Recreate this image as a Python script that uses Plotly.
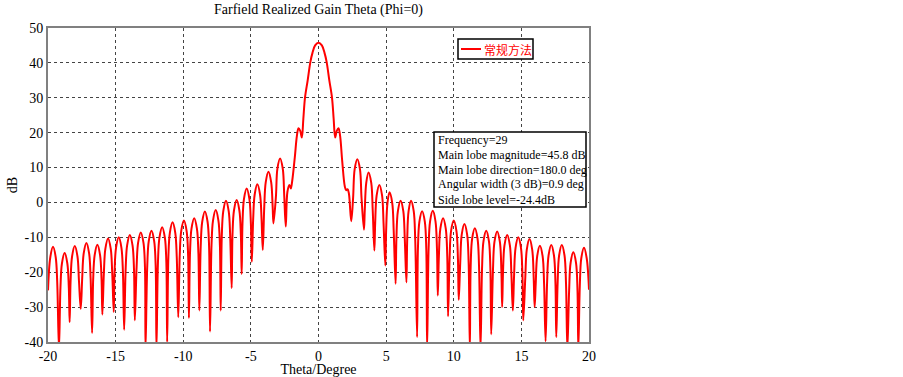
import plotly.graph_objects as go

# Theta (deg) and realized gain (dB): lobe peaks, lobe flanks, nulls, main-lobe profile
theta = [
    -20.00, -19.83, -19.63, -19.43, -19.32, -19.19, -19.08, -18.97, -18.77, -18.57,
    -18.46, -18.40, -18.33, -18.22, -18.02, -17.82, -17.71, -17.58, -17.47, -17.36,
    -17.16, -16.96, -16.85, -16.74, -16.66, -16.55, -16.35, -16.15, -16.04, -15.98,
    -15.87, -15.76, -15.56, -15.36, -15.25, -15.14, -15.08, -14.97, -14.77, -14.57,
    -14.46, -14.37, -14.26, -14.15, -13.95, -13.75, -13.64, -13.58, -13.45, -13.34,
    -13.14, -12.94, -12.83, -12.79, -12.66, -12.55, -12.35, -12.15, -12.04, -11.98,
    -11.87, -11.76, -11.56, -11.36, -11.25, -11.19, -11.10, -10.99, -10.79, -10.59,
    -10.48, -10.37, -10.26, -10.15, -9.95, -9.75, -9.64, -9.58, -9.50, -9.39,
    -9.19, -8.99, -8.88, -8.81, -8.71, -8.60, -8.40, -8.20, -8.09, -8.02,
    -7.91, -7.80, -7.60, -7.40, -7.29, -7.23, -7.15, -7.04, -6.84, -6.64,
    -6.53, -6.42, -6.36, -6.25, -6.05, -5.85, -5.74, -5.68, -5.62, -5.51,
    -5.31, -5.11, -5.00, -4.93, -4.83, -4.72, -4.52, -4.32, -4.21, -4.12,
    -4.01, -3.90, -3.70, -3.50, -3.39, -3.33, -3.15, -3.04, -2.84, -2.64,
    -2.53, -2.42, -2.30, -2.15, -2.05, -1.95, -1.75, -1.60, -1.48, -1.35,
    -1.23, -1.12, -1.00, -0.80, -0.60, -0.45, -0.25, 0.00, 0.25, 0.45,
    0.60, 0.80, 1.00, 1.12, 1.23, 1.35, 1.48, 1.60, 1.75, 1.95,
    2.05, 2.15, 2.25, 2.42, 2.56, 2.67, 2.87, 3.07, 3.18, 3.36,
    3.42, 3.53, 3.70, 3.90, 4.01, 4.13, 4.19, 4.30, 4.50, 4.70,
    4.81, 4.94, 5.00, 5.10, 5.25, 5.45, 5.56, 5.70, 5.76, 5.87,
    6.07, 6.27, 6.38, 6.50, 6.56, 6.66, 6.84, 7.04, 7.15, 7.29,
    7.35, 7.46, 7.66, 7.86, 7.97, 8.03, 8.14, 8.25, 8.45, 8.65,
    8.76, 8.82, 8.90, 9.01, 9.21, 9.41, 9.52, 9.58, 9.69, 9.80,
    10.00, 10.20, 10.31, 10.37, 10.48, 10.59, 10.79, 10.99, 11.10, 11.19,
    11.25, 11.36, 11.56, 11.76, 11.87, 11.98, 12.09, 12.20, 12.40, 12.60,
    12.71, 12.77, 12.90, 13.01, 13.21, 13.41, 13.52, 13.58, 13.64, 13.75,
    13.95, 14.15, 14.26, 14.37, 14.46, 14.57, 14.77, 14.97, 15.08, 15.14,
    15.29, 15.40, 15.60, 15.80, 15.91, 15.98, 16.06, 16.17, 16.37, 16.57,
    16.68, 16.79, 16.90, 17.01, 17.21, 17.41, 17.52, 17.58, 17.68, 17.79,
    17.99, 18.19, 18.30, 18.40, 18.53, 18.64, 18.84, 19.04, 19.15, 19.21,
    19.32, 19.43, 19.63, 19.83, 20.00,
]
gain_db = [
    -25.2, -15.7, -12.7, -15.7, -22.7, -42.0, -24.5, -17.5, -14.5, -17.5,
    -24.5, -34.3, -22.5, -15.5, -12.5, -15.5, -22.5, -30.5, -21.6, -14.6,
    -11.6, -14.6, -21.6, -37.4, -22.1, -15.1, -12.1, -15.1, -22.1, -32.1,
    -20.3, -13.3, -10.3, -13.3, -20.3, -31.4, -20.0, -13.0, -10.0, -13.0,
    -20.0, -36.5, -19.3, -12.3, -9.3, -12.3, -19.3, -33.8, -18.6, -11.6,
    -8.6, -11.6, -18.6, -42.0, -18.1, -11.1, -8.1, -11.1, -18.1, -42.0,
    -17.1, -10.1, -7.1, -10.1, -17.1, -40.0, -15.7, -8.7, -5.7, -8.7,
    -15.7, -32.9, -15.2, -8.2, -5.2, -8.2, -15.2, -33.1, -14.5, -7.5,
    -4.5, -7.5, -14.5, -31.0, -12.6, -5.6, -2.6, -5.6, -12.6, -37.0,
    -12.2, -5.2, -2.2, -5.2, -12.2, -31.0, -9.5, -2.5, 0.5, -2.5,
    -9.5, -24.5, -9.3, -2.3, 0.7, -2.3, -9.3, -20.5, -6.0, 1.0,
    4.0, 1.0, -6.0, -17.0, -4.8, 2.2, 5.2, 2.2, -4.8, -13.6,
    -1.2, 5.8, 8.8, 5.8, -1.2, -6.0, 1.6, 9.6, 12.6, 9.6,
    1.6, -6.9, 3.0, 5.0, 4.0, 6.0, 13.0, 19.0, 21.3, 20.5,
    18.6, 24.0, 30.0, 35.0, 40.3, 42.8, 45.0, 45.8, 45.0, 42.8,
    40.3, 35.0, 30.0, 24.0, 18.6, 20.5, 21.3, 19.0, 12.0, 4.5,
    3.5, 3.8, 2.5, -5.4, 1.4, 9.4, 12.4, 9.4, 1.4, -7.8,
    -2.4, 5.6, 8.6, 5.6, -2.4, -13.8, -6.0, 2.0, 5.0, 2.0,
    -6.0, -18.1, -8.1, -0.1, 2.9, -0.1, -8.1, -23.3, -10.5, -2.5,
    0.5, -2.5, -10.5, -22.9, -10.5, -2.5, 0.5, -2.5, -10.5, -38.6,
    -13.5, -5.5, -2.5, -5.5, -13.5, -42.0, -13.4, -5.4, -2.4, -5.4,
    -13.4, -26.7, -15.5, -7.5, -4.5, -7.5, -15.5, -32.6, -16.2, -8.2,
    -5.2, -8.2, -16.2, -27.9, -17.2, -9.2, -6.2, -9.2, -17.2, -42.0,
    -18.4, -10.4, -7.4, -10.4, -18.4, -42.0, -19.1, -11.1, -8.1, -11.1,
    -19.1, -37.8, -19.3, -11.3, -8.3, -11.3, -19.3, -30.0, -20.3, -12.3,
    -9.3, -12.3, -20.3, -31.0, -21.0, -13.0, -10.0, -13.0, -21.0, -33.8,
    -21.5, -13.5, -10.5, -13.5, -21.5, -30.0, -23.4, -15.4, -12.4, -15.4,
    -23.4, -39.8, -23.2, -15.2, -12.2, -15.2, -23.2, -38.6, -23.2, -15.2,
    -12.2, -15.2, -23.2, -42.0, -25.3, -17.3, -14.3, -17.3, -25.3, -42.0,
    -24.0, -16.0, -13.0, -16.0, -25.0,
]

x_tickvals = [-20, -15, -10, -5, 0, 5, 10, 15, 20]
x_ticktext = ["-20", "-15", "-10", "-5", "0", "5", "10", "15", "20"]
y_tickvals = [-40, -30, -20, -10, 0, 10, 20, 30, 40, 50]
y_ticktext = ["-40", "-30", "-20", "-10", "0", "10", "20", "30", "40", "50"]

series_name = "常规方法"
info_lines = [
    "Frequency=29",
    "Main lobe magnitude=45.8 dB",
    "Main lobe direction=180.0 deg",
    "Angular width (3 dB)=0.9 deg",
    "Side lobe level=-24.4dB",
]

SERIF = "Liberation Serif, Times New Roman, serif"
W, H = 903, 377
ML, MR, MT, MB = 48, 314, 28, 35
PW, PH = W - ML - MR, H - MT - MB


def px_x(p):  # pixel column -> paper x
    return (p - ML) / PW


def px_y(p):  # pixel row -> paper y
    return (H - MB - p) / PH


fig = go.Figure()
fig.add_trace(go.Scatter(
    x=theta, y=gain_db, mode="lines", name=series_name, showlegend=False,
    line=dict(color="#ff0000", width=2, shape="spline", smoothing=1.0),
))

axis_common = dict(
    showgrid=True, gridcolor="#444444", griddash="dot", gridwidth=1,
    zeroline=False, showline=True, linecolor="#808080", linewidth=2, mirror=True,
    ticks="", automargin=False,
    tickfont=dict(family=SERIF, size=14, color="#000000"),
)

fig.update_layout(
    width=W, height=H,
    margin=dict(l=ML, r=MR, t=MT, b=MB),
    paper_bgcolor="#ffffff", plot_bgcolor="#ffffff",
    title=dict(text="Farfield Realized Gain Theta (Phi=0)", x=px_x(318.5), xref="paper", xanchor="center",
               y=1 - 9 / H, yanchor="middle", font=dict(family=SERIF, size=14, color="#000000")),
    xaxis=dict(range=[-20, 20], tickvals=x_tickvals, ticktext=x_ticktext,
               title=dict(text="Theta/Degree", font=dict(family=SERIF, size=14, color="#000000"), standoff=4),
               **axis_common),
    yaxis=dict(range=[-40, 50], tickvals=y_tickvals, ticktext=y_ticktext,
               title=dict(text="dB", font=dict(family=SERIF, size=14, color="#000000"), standoff=4),
               **axis_common),
    showlegend=False,
)

# legend box (drawn to match the reference's compact legend)
fig.add_shape(type="rect", xref="paper", yref="paper",
              x0=px_x(458), x1=px_x(533), y0=px_y(59), y1=px_y(39),
              line=dict(color="#000000", width=1.5), fillcolor="#ffffff", layer="above")
fig.add_shape(type="line", xref="paper", yref="paper",
              x0=px_x(461), x1=px_x(481), y0=px_y(49), y1=px_y(49),
              line=dict(color="#ff0000", width=2), layer="above")
fig.add_annotation(xref="paper", yref="paper", x=px_x(482), y=px_y(49), xanchor="left", yanchor="middle",
                   text=series_name, showarrow=False,
                   font=dict(family="Noto Sans CJK SC", size=12, color="#ff0000"))

# info box
fig.add_shape(type="rect", xref="paper", yref="paper",
              x0=px_x(434), x1=px_x(586), y0=px_y(207), y1=px_y(132),
              line=dict(color="#000000", width=1.5), fillcolor="#ffffff", layer="above")
for i, line in enumerate(info_lines):
    fig.add_annotation(xref="paper", yref="paper", x=px_x(435.5), y=px_y(139.5 + 15 * i),
                       xanchor="left", yanchor="middle", text=line, align="left", showarrow=False,
                       font=dict(family=SERIF, size=12, color="#000000"))

fig.write_html("out.html", post_script="document.body.style.margin='0';",
               config={"displayModeBar": False})
